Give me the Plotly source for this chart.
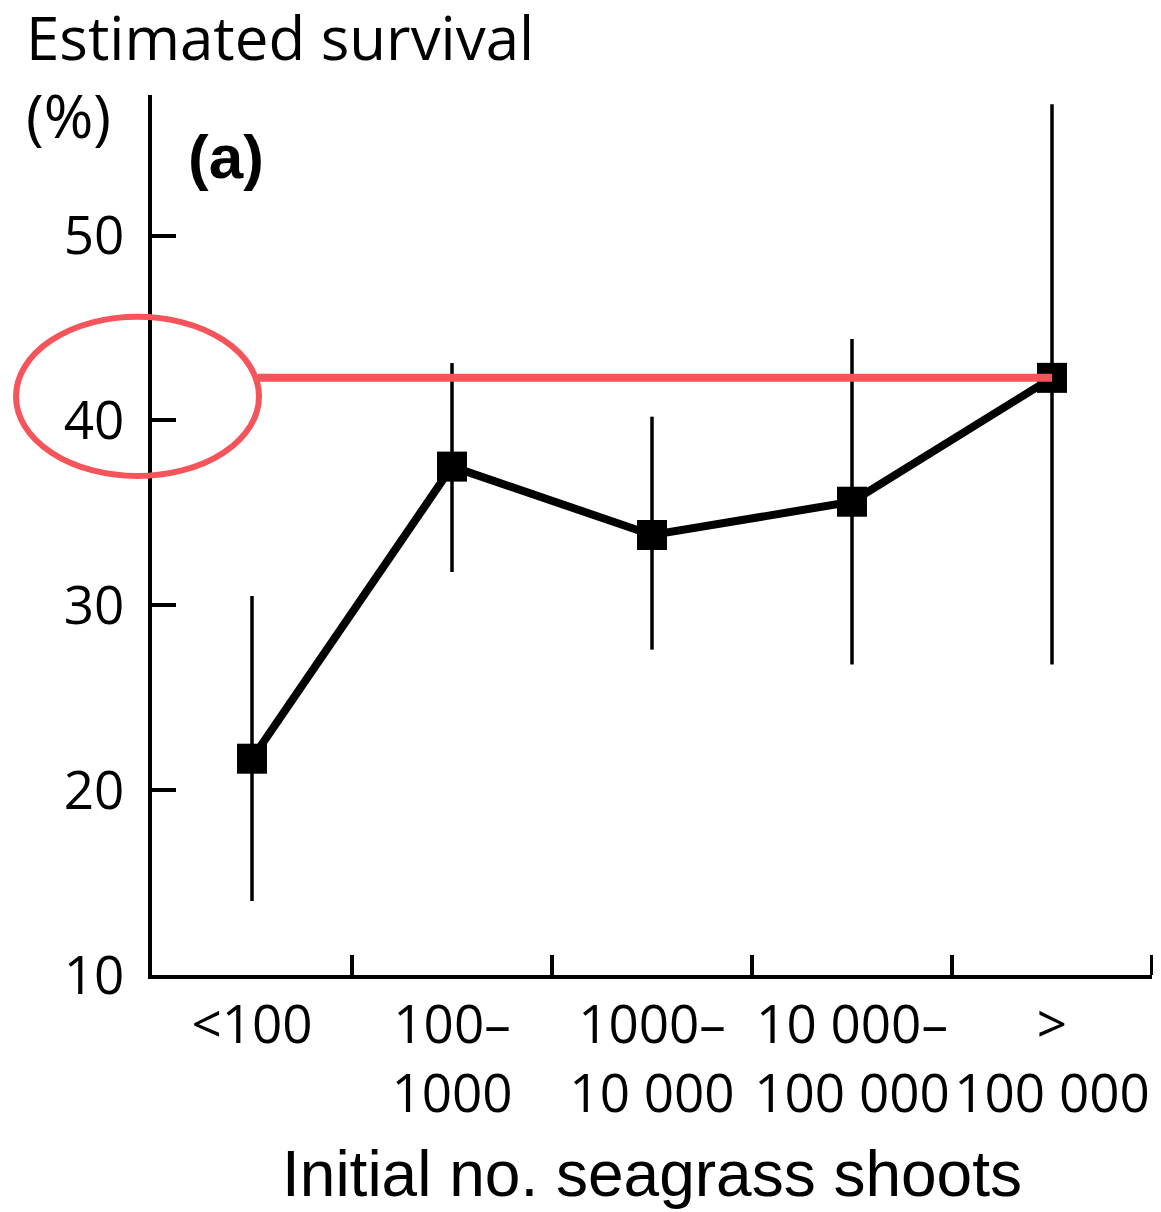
import plotly.graph_objects as go

categories = ["&lt;100", "100–<br>1000", "1000–<br>10 000", "10 000–<br>100 000", "><br>100 000"]
cat_pos = [0.5, 1.5, 2.5, 3.5, 4.5]
survival = [21.7, 37.5, 33.8, 35.6, 42.3]
upper = [30.5, 43.1, 40.2, 44.4, 57.1]
lower = [14.0, 31.8, 27.6, 26.8, 26.8]
y_ticks = [10, 20, 30, 40, 50]

err_plus = [u - v for u, v in zip(upper, survival)]
err_minus = [v - l for v, l in zip(survival, lower)]

tick_font = dict(family="Open Sans, Noto Sans, sans-serif", size=53, color="black")
label_font = dict(family="Open Sans, Noto Sans, sans-serif", size=60, color="black")

fig = go.Figure()
fig.add_trace(go.Scatter(
    x=cat_pos, y=survival, mode="lines+markers",
    line=dict(color="black", width=8),
    marker=dict(symbol="square", size=30, color="black"),
    error_y=dict(type="data", symmetric=False, array=err_plus, arrayminus=err_minus,
                 color="black", thickness=3.5, width=0),
    showlegend=False, cliponaxis=False,
))

# highlight line from ellipse to last point
fig.add_shape(type="line", xref="x", yref="y", x0=0.53, x1=cat_pos[-1],
              y0=survival[-1], y1=survival[-1], line=dict(color="#F5555A", width=8))
fig.add_shape(type="circle", xref="paper", yref="paper", x0=-0.136, x1=0.107, y0=0.567, y1=0.748,
              line=dict(color="#F5555A", width=6))

fig.update_layout(
    width=1153, height=1204,
    margin=dict(l=144, r=9, t=87, b=237),
    paper_bgcolor="white", plot_bgcolor="white",
    xaxis=dict(range=[0, 5], showgrid=False, zeroline=False, showline=True,
               linecolor="black", linewidth=4, automargin=False,
               tickmode="array", tickvals=cat_pos, ticktext=categories, ticks="",
               tickfont=tick_font,
               minor=dict(tickmode="array", tickvals=[1, 2, 3, 4, 5], ticks="inside",
                          ticklen=20, tickwidth=4, tickcolor="black"),
               title=dict(text="Initial no. seagrass shoots",
                          font=dict(family="Liberation Sans, Arial, sans-serif", size=64, color="black"),
                          standoff=26)),
    yaxis=dict(range=[10, 57.6], showgrid=False, zeroline=False, showline=True,
               linecolor="black", linewidth=4, automargin=False,
               tickmode="array", tickvals=y_ticks, ticks="inside", ticklen=24,
               tickwidth=4, tickcolor="black", tickfont=tick_font, ticklabelstandoff=13),
    annotations=[
        dict(text="Estimated survival", xref="paper", yref="paper", x=-0.128, y=1.0 + 58/880,
             xanchor="left", yanchor="middle", showarrow=False, font=label_font),
        dict(text="(%)", xref="paper", yref="paper", x=-0.128, y=1.0 - 20/880,
             xanchor="left", yanchor="middle", showarrow=False, font=label_font),
        dict(text="<b>(a)</b>", xref="x", yref="y", x=0.17, y=54.3,
             xanchor="left", yanchor="middle", showarrow=False,
             font=dict(family="Liberation Sans, Arial, sans-serif", size=62, color="black")),
    ],
)

fig.write_html("out.html")
